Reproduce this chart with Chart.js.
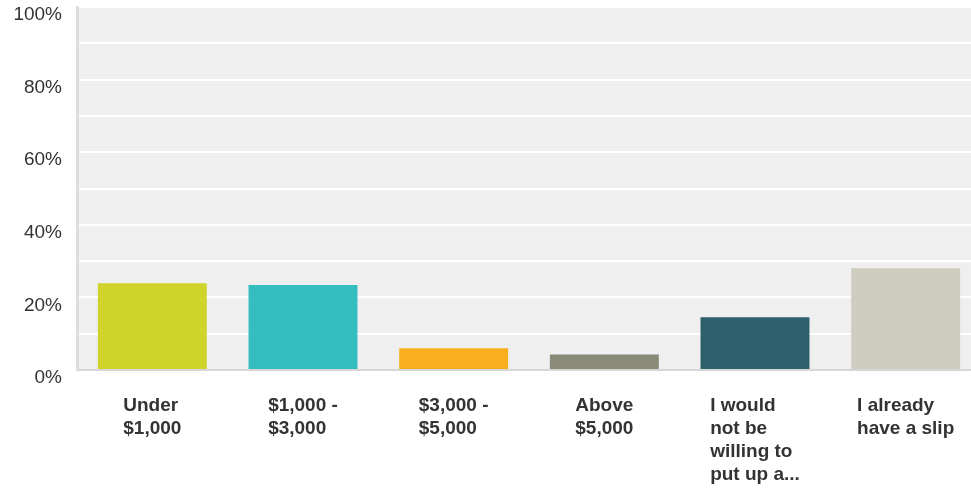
<!DOCTYPE html>
<html>
<head>
<meta charset="utf-8">
<script src="https://cdn.jsdelivr.net/npm/chart.js@4/dist/chart.umd.min.js"></script>
<style>
  html, body { margin: 0; padding: 0; background: #ffffff; overflow: hidden; }
  #wrap { position: relative; width: 981px; height: 488px; }
</style>
</head>
<body>
<div id="wrap"><canvas id="c"></canvas></div>
<script>
const categories = [
  ["Under", "$1,000"],
  ["$1,000 -", "$3,000"],
  ["$3,000 -", "$5,000"],
  ["Above", "$5,000"],
  ["I would", "not be", "willing to", "put up a..."],
  ["I already", "have a slip"]
];
const values = [23.9, 23.4, 6.0, 4.3, 14.5, 28.0];
const barColors = ["#d0d32a", "#34bec0", "#f7af1f", "#898a78", "#2d5f6c", "#cfcdbf"];
const yTickValues = [0, 20, 40, 60, 80, 100];

const plotBackground = {
  id: 'plotBackground',
  beforeDraw(chart) {
    const {ctx, chartArea: a} = chart;
    ctx.save();
    ctx.fillStyle = '#efefef';
    ctx.fillRect(a.left, a.top, a.right - a.left, a.bottom - a.top);
    ctx.restore();
  }
};

const xLabels = {
  id: 'xLabels',
  afterDraw(chart) {
    const {ctx} = chart;
    const xs = chart.scales.x;
    ctx.save();
    ctx.font = 'bold 19px "Liberation Sans", Arial, sans-serif';
    ctx.fillStyle = '#333333';
    ctx.textAlign = 'left';
    ctx.textBaseline = 'alphabetic';
    categories.forEach((lines, i) => {
      const cx = xs.getPixelForTick(i);
      const w = Math.max(...lines.map(l => ctx.measureText(l).width));
      const left = cx - w / 2;
      lines.forEach((line, j) => {
        ctx.fillText(line, left, xs.top + 41 + j * 23);
      });
    });
    ctx.restore();
  }
};

new Chart(document.getElementById('c'), {
  type: 'bar',
  data: {
    labels: categories.map(l => l.join(' ')),
    datasets: [{
      data: values,
      backgroundColor: barColors,
      borderWidth: 0,
      barPercentage: 0.723,
      categoryPercentage: 1.0
    }]
  },
  options: {
    responsive: true,
    maintainAspectRatio: false,
    animation: false,
    layout: { padding: { top: 7, right: 0, bottom: 0, left: 0 } },
    plugins: {
      legend: { display: false },
      tooltip: { enabled: false }
    },
    scales: {
      x: {
        grid: { display: false },
        border: { display: true, color: '#d6d6d6', width: 2 },
        ticks: { display: false },
        afterFit(scale) {
          scale.height = 118;
          scale.paddingLeft = 0;
          scale.paddingRight = 0;
        }
      },
      y: {
        min: 0,
        max: 100,
        grid: { color: '#ffffff', lineWidth: 2, drawTicks: false },
        border: { display: true, color: '#dddddd', width: 3 },
        ticks: {
          stepSize: 10,
          padding: 15,
          labelOffset: 8,
          color: '#333333',
          font: { family: '"Liberation Sans", Arial, sans-serif', size: 19 },
          callback: (v) => yTickValues.includes(v) ? v + '%' : ''
        },
        afterFit(scale) {
          scale.width = 77;
          scale.paddingTop = 0;
          scale.paddingBottom = 0;
        }
      }
    }
  },
  plugins: [plotBackground, xLabels]
});
</script>
</body>
</html>
